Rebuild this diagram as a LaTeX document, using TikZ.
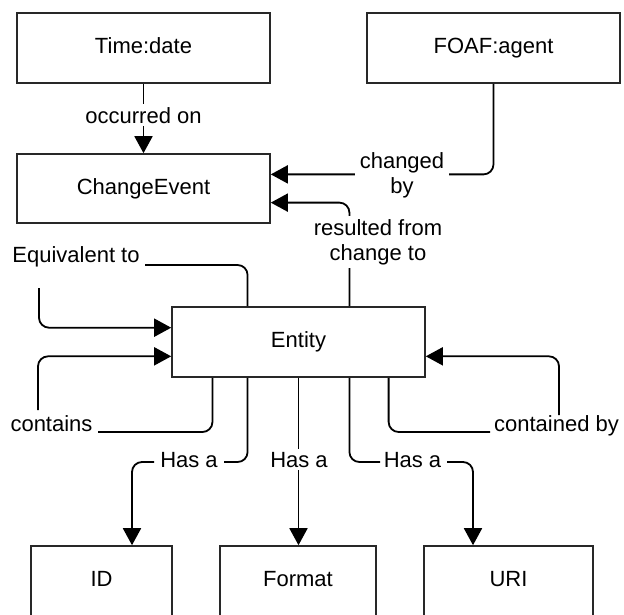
\documentclass[tikz,border=0pt]{standalone}
\usepackage{fontspec}
\setmainfont{Liberation Sans}
\usetikzlibrary{arrows.meta,calc}
\definecolor{boxline}{RGB}{40,40,40}
\begin{document}
\begin{tikzpicture}[x=1pt,y=-1pt,
  box/.style={draw=boxline, line width=1.6pt, inner sep=0pt,
    minimum height=70pt, text height=16pt, text depth=5pt,
    font=\fontsize{22}{25}\selectfont},
  lbl/.style={font=\fontsize{22}{25}\selectfont, align=center, inner xsep=4pt, inner ysep=3pt},
  wlbl/.style={lbl, fill=white},
  wire/.style={line width=1.8pt, rounded corners=10pt},
  conn/.style={wire, -{Triangle[length=17pt,width=18pt]}}]
\useasboundingbox (0,0) rectangle (624,614);
\clip (0,0) rectangle (624,614);

% boxes
\node[box, minimum width=253pt] (td) at (143.5,48) {Time:date};
\node[box, minimum width=253pt] (foaf) at (493.5,48) {FOAF:agent};
\node[box, minimum width=253pt, minimum height=69pt] (ce) at (143.5,188.5) {ChangeEvent};
\node[box, minimum width=253pt] (ent) at (298.5,342) {Entity};
\node[box, minimum width=141pt] (id) at (101.5,581) {ID};
\node[box, minimum width=156pt] (fmt) at (298,581) {Format};
\node[box, minimum width=169pt] (uri) at (508.5,581) {URI};

% attachment points
\coordinate (ceA) at ($(ce.north east)!0.3!(ce.south east)$);
\coordinate (ceB) at ($(ce.north east)!0.7!(ce.south east)$);
\coordinate (entT3) at ($(ent.north west)!0.3!(ent.north east)$);
\coordinate (entT7) at ($(ent.north west)!0.7!(ent.north east)$);
\coordinate (entW3) at ($(ent.north west)!0.3!(ent.south west)$);
\coordinate (entW7) at ($(ent.north west)!0.7!(ent.south west)$);
\coordinate (entE7) at ($(ent.north east)!0.7!(ent.south east)$);
\coordinate (entB16) at ($(ent.south west)!0.162!(ent.south east)$);
\coordinate (entB3) at ($(ent.south west)!0.3!(ent.south east)$);
\coordinate (entB7) at ($(ent.south west)!0.7!(ent.south east)$);
\coordinate (entB85) at ($(ent.south west)!0.854!(ent.south east)$);
\coordinate (idx) at (132,0);
\coordinate (urix) at (473,0);

% free ends of split connectors
\coordinate (eqA) at (145,265);
\coordinate (eqB) at (39,288);
\coordinate (coA) at (98,432);
\coordinate (coB) at (38,410);
\coordinate (cbA) at (490,432);
\coordinate (cbB) at (559,415);
\coordinate (haLA) at (224,462);
\coordinate (haLB) at (154,462);
\coordinate (haRA) at (380,462);
\coordinate (haRB) at (447,462);

% connectors
\draw[conn] (td) -- (ce);
\draw[conn] (foaf.south) |- (ceA);
\draw[conn] (entT7) |- (ceB);

\draw[wire] (entT3) |- (eqA);
\draw[conn] (eqB) |- (entW3);

\draw[wire] (entB16) |- (coA);
\draw[conn] (coB) |- (entW7);

\draw[wire] (entB85) |- (cbA);
\draw[conn] (cbB) |- (entE7);

\draw[wire] (entB3) |- (haLA);
\draw[conn] (haLB) -| (id.north -| idx);

\draw[conn] (ent.south) -- (ent.south |- fmt.north);

\draw[wire] (entB7) |- (haRA);
\draw[conn] (haRB) -| (uri.north -| urix);

% labels
\node[wlbl, anchor=base] (l1) at (143.5,123) {occurred on};
\node[wlbl, inner xsep=5pt] (l2) at (402,175) {changed\\by};
\node[wlbl] (l3) at (378,242) {resulted from\\change to};
\node[lbl, anchor=base] (l4) at (76,262) {Equivalent to};
\node[lbl, anchor=base] (l5) at (51.5,431) {contains};
\node[lbl, anchor=base] (l6) at (556.5,431) {contained by};
\node[lbl, anchor=base] (l7) at (189,467) {Has a};
\node[wlbl, anchor=base] (l8) at (299,467) {Has a};
\node[lbl, anchor=base] (l9) at (412.5,467) {Has a};
\end{tikzpicture}
\end{document}
